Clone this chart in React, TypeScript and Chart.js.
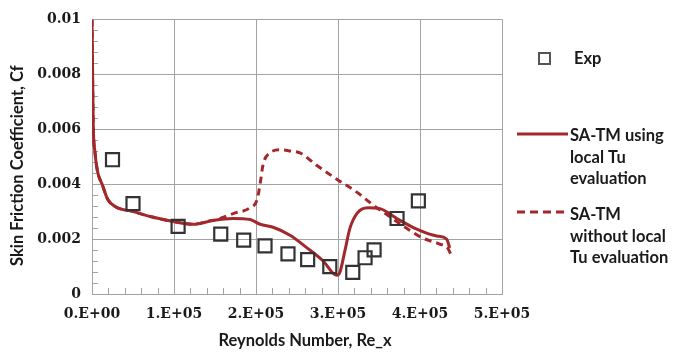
import { useEffect, useRef } from 'react';
import { Chart, registerables } from 'chart.js';

Chart.register(...registerables);

// Measured skin friction (Exp)
const expRe = [25000, 50000, 105000, 157000, 185000, 211000, 239000, 263000, 290000, 318000, 333000, 344000, 372000, 398000];
const expCf = [0.00489, 0.00329, 0.00246, 0.00218, 0.00196, 0.00175, 0.00146, 0.00125, 0.00100, 0.00079, 0.00132, 0.00161, 0.00275, 0.00339];

// SA-TM using local Tu evaluation
const localRe = [0, 1500, 3500, 6500, 12800, 18900, 28600, 50500, 71200, 99100, 123500, 147800, 172100, 192800, 205000, 220800, 241500, 262200, 281600, 298600, 302300, 308400, 314500, 323000, 336400, 351000, 371700, 396000, 420400, 432500, 436200];
const localCf = [0.0100, 0.0062, 0.0052, 0.0045, 0.00396, 0.00346, 0.00318, 0.00300, 0.00282, 0.00264, 0.00254, 0.00268, 0.00275, 0.00271, 0.00254, 0.00243, 0.00214, 0.00168, 0.00121, 0.00068, 0.00079, 0.00157, 0.00239, 0.00293, 0.00314, 0.00311, 0.00275, 0.00236, 0.00211, 0.00200, 0.00168];

// SA-TM without local Tu evaluation
const noLocalRe = [0, 1500, 3500, 6500, 12800, 18900, 28600, 50500, 71200, 99100, 123500, 140000, 156300, 172100, 192800, 201300, 205000, 208600, 217100, 229300, 241400, 253600, 274300, 298600, 322900, 342400, 363000, 383800, 403200, 423900, 433700, 437300];
const noLocalCf = [0.0100, 0.0062, 0.0052, 0.0045, 0.00396, 0.00346, 0.00318, 0.00300, 0.00282, 0.00264, 0.00254, 0.00264, 0.00275, 0.00293, 0.00314, 0.00343, 0.00400, 0.00471, 0.00514, 0.00525, 0.00521, 0.00514, 0.00468, 0.00418, 0.00371, 0.00325, 0.00282, 0.00239, 0.00204, 0.00182, 0.00168, 0.00146];

const xTickLabels = ['0.E+00', '1.E+05', '2.E+05', '3.E+05', '4.E+05', '5.E+05'];
const yTickLabels = ['0', '0.002', '0.004', '0.006', '0.008', '0.01'];

const xTitle = 'Reynolds Number, Re_x';
const yTitle = 'Skin Friction Coefficient, Cf';
const expLabel = ['Exp'];
const localLabel = ['SA-TM using', 'local Tu', 'evaluation'];
const noLocalLabel = ['SA-TM', 'without local', 'Tu evaluation'];

const RED = '#a3282b';
const GRID = '#a3a3a3';
const MARK = '#333333';
const TITLE_FONT = 'bold 16.5px Lato';

const toPoints = (xs: number[], ys: number[]) => xs.map((x, i) => ({ x, y: ys[i] }));

// Short inward minor ticks along the x and y axes
const minorTicks = {
  id: 'minorTicks',
  beforeDatasetsDraw(chart: any) {
    const { ctx, chartArea, scales } = chart;
    ctx.save();
    ctx.strokeStyle = GRID;
    ctx.lineWidth = 1;
    ctx.beginPath();
    for (let v = 20000; v < 500000; v += 20000) {
      if (v % 100000 === 0) continue;
      const x = Math.round(scales.x.getPixelForValue(v)) + 0.5;
      ctx.moveTo(x, chartArea.bottom);
      ctx.lineTo(x, chartArea.bottom - 6);
    }
    for (let i = 1; i < 25; i++) {
      if (i % 5 === 0) continue;
      const y = Math.round(scales.y.getPixelForValue(i * 0.0004)) + 0.5;
      ctx.moveTo(chartArea.left, y);
      ctx.lineTo(chartArea.left + 6, y);
    }
    ctx.stroke();
    ctx.restore();
  },
};

// Axis titles and the legend at the right
const annotations = {
  id: 'annotations',
  afterDraw(chart: any) {
    const { ctx, chartArea } = chart;
    ctx.save();
    ctx.fillStyle = '#1a1a1a';
    ctx.font = TITLE_FONT;
    ctx.textBaseline = 'middle';
    ctx.textAlign = 'center';
    ctx.fillText(xTitle, (chartArea.left + chartArea.right) / 2 + 8, 341);
    ctx.save();
    ctx.translate(17.5, (chartArea.top + chartArea.bottom) / 2 + 9);
    ctx.rotate(-Math.PI / 2);
    ctx.fillText(yTitle, 0, 0);
    ctx.restore();

    ctx.textAlign = 'left';
    ctx.textBaseline = 'alphabetic';

    // Exp
    ctx.strokeStyle = '#555555';
    ctx.lineWidth = 2;
    ctx.strokeRect(539, 53, 11, 11);
    ctx.fillText(expLabel[0], 574, 64);

    // solid
    ctx.strokeStyle = RED;
    ctx.lineWidth = 3;
    ctx.beginPath();
    ctx.moveTo(517, 134);
    ctx.lineTo(568, 134);
    ctx.stroke();
    localLabel.forEach((t, i) => ctx.fillText(t, 570, 141 + i * 21.5));

    // dashed
    ctx.setLineDash([8, 5]);
    ctx.beginPath();
    ctx.moveTo(517, 212);
    ctx.lineTo(568, 212);
    ctx.stroke();
    ctx.setLineDash([]);
    noLocalLabel.forEach((t, i) => ctx.fillText(t, 570, 220 + i * 21.5));
    ctx.restore();
  },
};

export default function App() {
  const canvasRef = useRef<HTMLCanvasElement | null>(null);

  useEffect(() => {
    if (!canvasRef.current) return;
    const tickFont = { family: 'DejaVu Serif', size: 14, weight: 'bold' as const };
    const chart = new Chart(canvasRef.current, {
      type: 'scatter',
      data: {
        datasets: [
          {
            label: 'Exp',
            data: toPoints(expRe, expCf),
            pointStyle: 'rect',
            pointRadius: 9.2,
            pointBorderWidth: 2.2,
            pointBorderColor: MARK,
            pointBackgroundColor: 'rgba(0,0,0,0)',
            showLine: false,
            order: 0,
          },
          {
            label: 'SA-TM using local Tu evaluation',
            data: toPoints(localRe, localCf),
            showLine: true,
            borderColor: RED,
            borderWidth: 3,
            pointRadius: 0,
            cubicInterpolationMode: 'monotone',
            order: 1,
          },
          {
            label: 'SA-TM without local Tu evaluation',
            data: toPoints(noLocalRe, noLocalCf),
            showLine: true,
            borderColor: RED,
            borderWidth: 3,
            borderDash: [7, 5],
            pointRadius: 0,
            cubicInterpolationMode: 'monotone',
            order: 2,
          },
        ],
      },
      options: {
        animation: false,
        responsive: false,
        events: [],
        layout: { padding: { top: 14, right: 188, bottom: 0, left: 0 } },
        plugins: { legend: { display: false }, tooltip: { enabled: false } },
        scales: {
          x: {
            type: 'linear',
            min: 0,
            max: 500000,
            afterFit: (s: any) => { s.height = 61; },
            border: { color: GRID, width: 1 },
            grid: { color: GRID, lineWidth: 1, drawTicks: false },
            ticks: {
              stepSize: 100000,
              padding: 12,
              color: '#1a1a1a',
              font: tickFont,
              maxRotation: 0,
              autoSkip: false,
              callback: (_v: any, i: number) => xTickLabels[i],
            },
          },
          y: {
            type: 'linear',
            min: 0,
            max: 0.01,
            afterFit: (s: any) => { s.width = 92; },
            border: { color: GRID, width: 1 },
            grid: { color: GRID, lineWidth: 1, drawTicks: false },
            ticks: {
              stepSize: 0.002,
              padding: 11,
              color: '#1a1a1a',
              font: tickFont,
              autoSkip: false,
              callback: (_v: any, i: number) => yTickLabels[i],
            },
          },
        },
      },
      plugins: [minorTicks, annotations],
    });
    return () => chart.destroy();
  }, []);

  return (
    <div style={{ position: 'fixed', left: 0, top: 0, width: 690, height: 355, background: '#fff' }}>
      <canvas ref={canvasRef} width={690} height={355} style={{ width: 690, height: 355, display: 'block' }} />
    </div>
  );
}
